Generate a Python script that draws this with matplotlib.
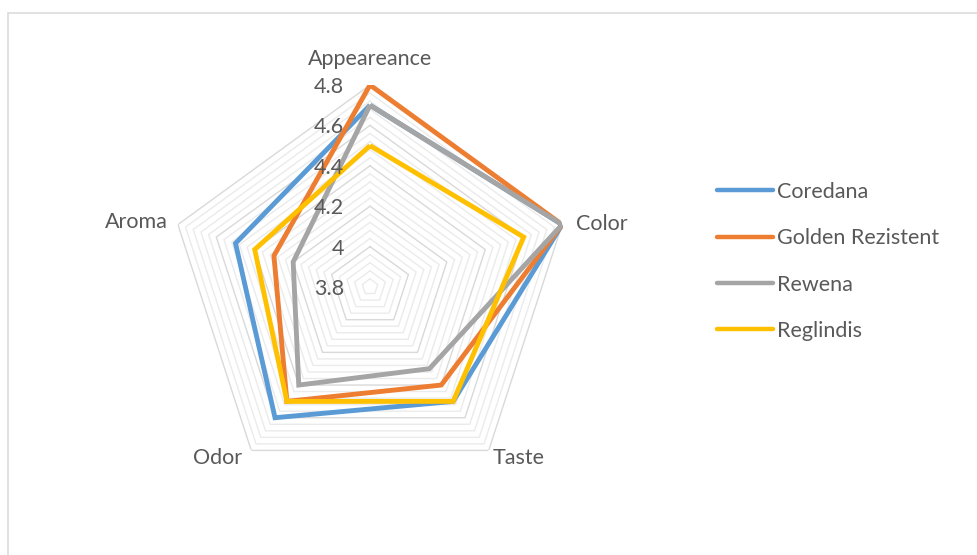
import numpy as np
import matplotlib
matplotlib.use("Agg")
import matplotlib.pyplot as plt
from matplotlib.patches import Rectangle

# Sensory scores per cultivar
categories = ["Appeareance", "Color", "Taste", "Odor", "Aroma"]
series_names = ["Coredana", "Golden Rezistent", "Rewena", "Reglindis"]
coredana = [4.7, 4.8, 4.5, 4.6, 4.5]
golden_rezistent = [4.8, 4.8, 4.4, 4.5, 4.3]
rewena = [4.7, 4.8, 4.3, 4.4, 4.2]
reglindis = [4.5, 4.6, 4.5, 4.5, 4.4]
series_values = [coredana, golden_rezistent, rewena, reglindis]
series_colors = ["#5B9BD5", "#ED7D31", "#A5A5A5", "#FFC000"]

r_min, r_max = 3.8, 4.8
major_ticks = [3.8, 4.0, 4.2, 4.4, 4.6, 4.8]
tick_labels = ["3.8", "4", "4.2", "4.4", "4.6", "4.8"]
minor_step = 0.04

text_color = "#595959"
major_grid = "#D9D9D9"
minor_grid = "#EBEBEB"
font = ["Lato", "DejaVu Sans"]
plt.rcParams["font.family"] = font
fs = 15.5

W, H, DPI = 977, 555, 100
fig = plt.figure(figsize=(W / DPI, H / DPI), dpi=DPI)

# chart frame
fig.patches.append(Rectangle((7.5 / W, -0.1), 1.2, 1.1 - 12.5 / H,
                             transform=fig.transFigure, fill=False,
                             edgecolor=major_grid, linewidth=1.1))

cx, cy, rad = 370, 287, 202
ax = fig.add_axes([(cx - rad) / W, (H - cy - rad) / H, 2 * rad / W, 2 * rad / H],
                  projection="polar")
ax.set_theta_offset(np.pi / 2)
ax.set_theta_direction(-1)
ax.set_ylim(r_min, r_max)
ax.grid(False)
ax.spines["polar"].set_visible(False)
ax.set_xticks([])
ax.set_yticks([])
ax.patch.set_alpha(0)

n = len(categories)
theta = np.linspace(0, 2 * np.pi, n, endpoint=False)
theta_closed = np.append(theta, theta[0])

# pentagonal gridlines: minor rings lighter, major rings darker
levels = np.arange(r_min + minor_step, r_max + 1e-9, minor_step)
for i, lv in enumerate(levels, start=1):
    is_major = i % 5 == 0
    ax.plot(theta_closed, [lv] * (n + 1),
            color=major_grid if is_major else minor_grid,
            lw=1.0, zorder=2 if is_major else 1, solid_joinstyle="miter")

lines = []
for name, vals, col in zip(series_names, series_values, series_colors):
    v = list(vals) + [vals[0]]
    ln, = ax.plot(theta_closed, v, color=col, lw=3.5, label=name, zorder=3,
                  solid_joinstyle="miter", solid_capstyle="butt")
    lines.append(ln)

# value labels along the first axis
for t, lab in zip(major_ticks, tick_labels):
    ax.annotate(lab, xy=(0, t), xycoords="data", xytext=(-26, -2),
                textcoords="offset pixels", ha="right", va="center",
                fontsize=fs, color=text_color, zorder=4)

# category labels
cat_offsets = [(0, 26, "center"), (14, 1, "left"), (4, -8, "left"),
               (-9, -8, "right"), (-10, 3, "right")]
for th, lab, (dx, dy, ha) in zip(theta, categories, cat_offsets):
    ax.annotate(lab, xy=(th, r_max), xycoords="data", xytext=(dx, dy),
                textcoords="offset pixels", ha=ha, va="center",
                fontsize=fs, color=text_color, annotation_clip=False)

leg = fig.legend(handles=lines, loc="upper left",
                 bbox_to_anchor=(717 / W, 1 - 182 / H),
                 frameon=False, fontsize=fs, labelcolor=text_color,
                 handlelength=2.6, handletextpad=0.2, labelspacing=1.22,
                 borderaxespad=0, borderpad=0)
for h in leg.legend_handles:
    h.set_linewidth(3.2)
    h.set_solid_capstyle("round")

fig.savefig("out.png", dpi=DPI)
